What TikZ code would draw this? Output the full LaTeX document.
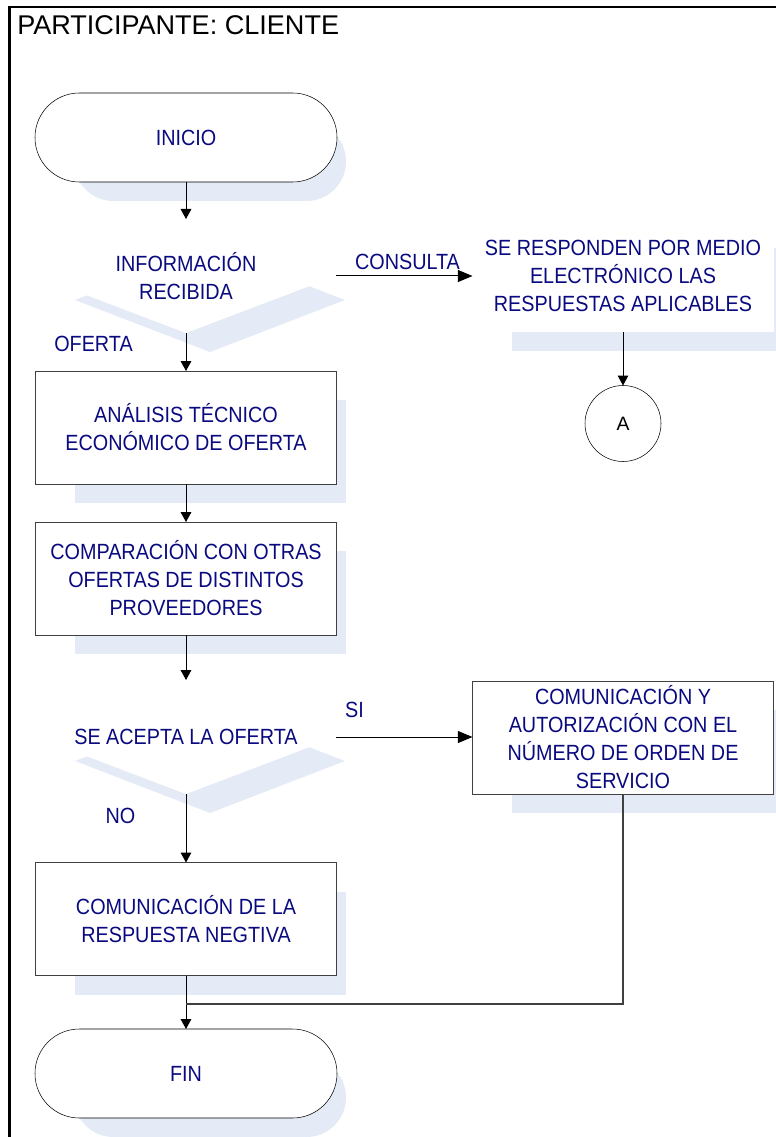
\documentclass[tikz,border=0pt]{standalone}
\usepackage{fontspec}
\setmainfont{Liberation Sans}
\newfontfamily\boxfont[FakeStretch=0.9]{Liberation Sans}
\usetikzlibrary{shapes.geometric,arrows.meta,calc,backgrounds}
\definecolor{textblue}{RGB}{10,10,128}
\definecolor{shadowblue}{RGB}{228,235,246}
\definecolor{linegray}{RGB}{64,64,64}
\newcommand\boxshadow[1]{\fill[shadowblue] ($(#1.north west)+(39,29)$) rectangle ($(#1.south east)+(9,19)$);}
\newcommand\termshadow[1]{\fill[shadowblue,rounded corners=29.6pt] ($(#1.north west)+(39,29)$) rectangle ($(#1.south east)+(9,19)$);}
\newcommand\decshadow[1]{\fill[shadowblue] ($(#1.west)+(39,24)$) -- ($(#1.north)+(24,29)$) -- ($(#1.east)+(9,24)$) -- ($(#1.south)+(24,19)$) -- cycle;}

\begin{document}
\begin{tikzpicture}[x=0.75pt,y=-0.75pt,
    boxtext/.style={font={\boxfont\fontsize{16.5pt}{21pt}\selectfont},text=textblue,align=center},
    terminal/.style={boxtext,draw=black,fill=white,rounded corners=33.3pt,minimum width=226.5pt,minimum height=66.75pt,inner sep=0pt,outer sep=0pt},
    process/.style={boxtext,draw=linegray,fill=white,minimum width=225.75pt,minimum height=84.75pt,inner sep=0pt,outer sep=0pt},
    decision/.style={boxtext,diamond,fill=white,aspect=2.63,minimum width=225pt,minimum height=85.5pt,inner sep=0pt,outer sep=0pt},
    connector/.style={circle,draw=black,fill=white,minimum size=57pt,inner sep=0pt,outer sep=0pt,font=\fontsize{14.5pt}{17pt}\selectfont},
    flowtag/.style={boxtext,inner sep=0pt},
    flow/.style={-{Triangle[length=7.5pt,width=8pt]},line width=0.75pt},
    flowh/.style={-{Triangle[length=11pt,width=9pt]},line width=0.75pt},
    joinline/.style={draw=linegray,line width=0.9pt}]
  \useasboundingbox (0,0) rectangle (775,1137);
  \draw[line width=1.7pt] (9.5,1140) -- (9.5,7) -- (780,7);
  \node[anchor=west,inner sep=0pt,font=\fontsize{20.3pt}{24pt}\selectfont] (titulo) at (17,25.5) {PARTICIPANTE: CLIENTE};

  % flujo principal
  \node[terminal] (inicio) at (186,137.5) {INICIO};
  \node[decision] (recibida) at (186,276) {INFORMACIÓN\\RECIBIDA};
  \node[process] (analisis) at (186,427.5) {ANÁLISIS TÉCNICO\\ECONÓMICO DE OFERTA};
  \node[process] (comparacion) at (186,578.5) {COMPARACIÓN CON OTRAS\\OFERTAS DE DISTINTOS\\PROVEEDORES};
  \node[decision] (acepta) at (186,737) {SE ACEPTA LA OFERTA};
  \node[process] (negativa) at (186,919) {COMUNICACIÓN DE LA\\RESPUESTA NEGTIVA};
  \node[terminal] (fin) at (186,1073.5) {FIN};

  % ramas
  \node[process,draw=none] (responden) at (623,275.5) {SE RESPONDEN POR MEDIO\\ELECTRÓNICO LAS\\RESPUESTAS APLICABLES};
  \node[connector] (conA) at (623,423.5) {A};
  \node[process] (autorizacion) at (623,737.5) {COMUNICACIÓN Y\\AUTORIZACIÓN CON EL\\NÚMERO DE ORDEN DE\\SERVICIO};

  \node[flowtag] (oferta) at (93.5,344) {OFERTA};
  \node[flowtag] (consulta) at (407.5,262) {CONSULTA};
  \node[flowtag] (si) at (354.5,710) {SI};
  \node[flowtag] (no) at (120.5,815.5) {NO};

  \begin{scope}[on background layer]
    \termshadow{inicio}
    \termshadow{fin}
    \decshadow{recibida}
    \decshadow{acepta}
    \boxshadow{analisis}
    \boxshadow{comparacion}
    \boxshadow{negativa}
    \boxshadow{responden}
    \boxshadow{autorizacion}
  \end{scope}

  \draw[flow] (inicio) -- (recibida);
  \draw[flow] (recibida) -- (analisis);
  \draw[flowh] (recibida.east) -- (recibida.east -| responden.west);
  \draw[flow] (responden) -- (conA);
  \draw[flow] (analisis) -- (comparacion);
  \draw[flow] (comparacion) -- (acepta);
  \draw[flowh] (acepta.east) -- (acepta.east -| autorizacion.west);
  \draw[flow] (acepta) -- (negativa);
  \draw[flow] (negativa) -- (fin);
  \coordinate (union) at (186,1004);
  \draw[joinline] (autorizacion.south) |- (union);
\end{tikzpicture}
\end{document}
